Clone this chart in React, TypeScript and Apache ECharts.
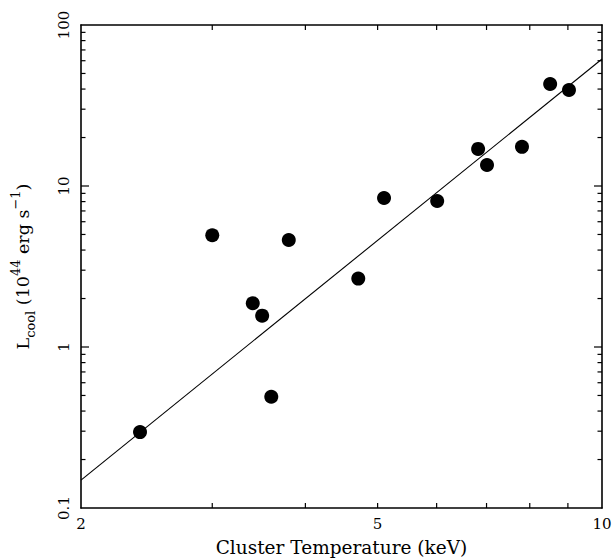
import React, { useEffect, useRef } from "react";
import * as echarts from "echarts";

const temps = [2.4, 3.0, 3.4, 3.5, 3.6, 3.8, 4.71, 5.1, 6.01, 6.82, 7.01, 7.81, 8.52, 9.03];
const lcool = [0.296, 4.94, 1.87, 1.565, 0.491, 4.62, 2.66, 8.42, 8.07, 17.0, 13.5, 17.5, 43.0, 39.5];
const fitT = [2, 10];
const fitL = [0.149, 61.5];

const xLabels = [2, 5, 10];
const xTicks = [3, 4, 5, 6, 7, 8, 9];
const yLabels = [0.1, 1, 10, 100];
const yMajor = [1, 10];
const yMinor = [0.2, 0.3, 0.4, 0.5, 0.6, 0.7, 0.8, 0.9, 2, 3, 4, 5, 6, 7, 8, 9, 20, 30, 40, 50, 60, 70, 80, 90];

const FONT = "DejaVu Serif";
const MAJOR_LEN = 8;
const MINOR_LEN = 4.5;
const X_TICK_LEN = 5;

export default function App() {
  const ref = useRef<HTMLDivElement>(null);
  useEffect(() => {
    if (!ref.current) return;
    const chart = echarts.init(ref.current, null, { renderer: "svg" });
    const line = { show: true, lineStyle: { color: "#000", width: 1.6 } };
    const xBase = { type: "log", logBase: 10, min: 2, max: 10, splitLine: { show: false }, axisLine: line, axisTick: { show: false } };
    const yBase = { type: "log", logBase: 10, min: 0.1, max: 100, splitLine: { show: false }, axisLine: line, axisTick: { show: false } };
    const noLabel = { show: false };
    const tickStyle = { stroke: "#000", fill: "none", lineWidth: 1.2 };
    chart.setOption({
      animation: false,
      backgroundColor: "#fff",
      grid: { left: 81, right: 12, top: 25, bottom: 51, outerBoundsMode: "none" },
      xAxis: [
        {
          ...xBase,
          position: "bottom",
          axisLabel: {
            customValues: xLabels,
            color: "#000",
            fontFamily: FONT,
            fontSize: 15,
            margin: 8,
            formatter: (v: number) => String(v),
          },
          name: "Cluster Temperature (keV)",
          nameLocation: "middle",
          nameGap: 30,
          nameTextStyle: { color: "#000", fontFamily: FONT, fontSize: 18.5 },
        },
        { ...xBase, position: "top", axisLabel: noLabel },
      ],
      yAxis: [
        {
          ...yBase,
          position: "left",
          axisLabel: {
            customValues: yLabels,
            rotate: 90,
            color: "#000",
            fontFamily: FONT,
            fontSize: 15,
            margin: 10,
            formatter: (v: number) => String(v),
          },
          name: "{m|L}{sub|cool}{m| (10}{sup|44}{m| erg s}{sup|−1}{m|)}",
          nameLocation: "middle",
          nameRotate: 90,
          nameGap: 44,
          nameTextStyle: {
            color: "#000",
            fontFamily: FONT,
            fontSize: 17.5,
            rich: {
              m: { fontFamily: FONT, fontSize: 17.5, color: "#000", lineHeight: 28, verticalAlign: "middle" },
              sub: { fontFamily: FONT, fontSize: 13, color: "#000", lineHeight: 13, verticalAlign: "bottom" },
              sup: { fontFamily: FONT, fontSize: 13, color: "#000", lineHeight: 13, verticalAlign: "top" },
            },
          },
        },
        { ...yBase, position: "right", axisLabel: noLabel },
      ],
      series: [
        {
          type: "line",
          xAxisIndex: 0,
          yAxisIndex: 0,
          data: fitT.map((t, i) => [t, fitL[i]]),
          showSymbol: false,
          symbol: "none",
          lineStyle: { color: "#000", width: 1.1 },
          silent: true,
        },
        {
          type: "scatter",
          xAxisIndex: 0,
          yAxisIndex: 0,
          data: temps.map((t, i) => [t, lcool[i]]),
          symbol: "circle",
          symbolSize: 14,
          itemStyle: { color: "#000", opacity: 1 },
        },
        {
          type: "custom",
          coordinateSystem: "cartesian2d",
          xAxisIndex: 0,
          yAxisIndex: 0,
          silent: true,
          clip: false,
          z: 10,
          data: xTicks.map((v) => [v, 1]),
          renderItem: (params: any, api: any) => {
            const cs = params.coordSys;
            const p = api.coord([api.value(0), api.value(1)]);
            const yb = cs.y + cs.height;
            const yt = cs.y;
            return {
              type: "group",
              children: [
                { type: "line", shape: { x1: p[0], y1: yb, x2: p[0], y2: yb - X_TICK_LEN }, style: tickStyle },
                { type: "line", shape: { x1: p[0], y1: yt, x2: p[0], y2: yt + X_TICK_LEN }, style: tickStyle },
              ],
            };
          },
        },
        {
          type: "custom",
          coordinateSystem: "cartesian2d",
          xAxisIndex: 0,
          yAxisIndex: 0,
          silent: true,
          clip: false,
          z: 10,
          data: [...yMajor.map((v) => [2, v, MAJOR_LEN]), ...yMinor.map((v) => [2, v, MINOR_LEN])],
          renderItem: (params: any, api: any) => {
            const cs = params.coordSys;
            const p = api.coord([api.value(0), api.value(1)]);
            const len = api.value(2);
            const xl = cs.x;
            const xr = cs.x + cs.width;
            return {
              type: "group",
              children: [
                { type: "line", shape: { x1: xl, y1: p[1], x2: xl + len, y2: p[1] }, style: tickStyle },
                { type: "line", shape: { x1: xr, y1: p[1], x2: xr - len, y2: p[1] }, style: tickStyle },
              ],
            };
          },
        },
      ],
    });
    return () => chart.dispose();
  }, []);
  return (
    <div
      ref={ref}
      style={{ position: "fixed", left: 0, top: 0, width: 614, height: 559, background: "#fff" }}
    />
  );
}
